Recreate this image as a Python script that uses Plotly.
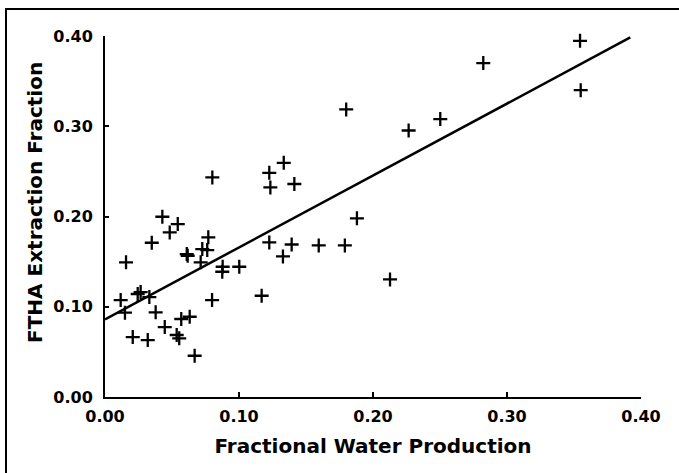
import plotly.graph_objects as go

water_fraction = [
    0.0801, 0.1226, 0.1234, 0.0428, 0.0543, 0.0483, 0.0349, 0.0771, 0.0726, 0.0763,
    0.0610, 0.0617, 0.0157, 0.0714, 0.0878, 0.0875, 0.1002, 0.1226, 0.0117, 0.0244,
    0.0266, 0.0331, 0.0149, 0.0378, 0.0799, 0.1169, 0.0207, 0.0319, 0.0446, 0.0535,
    0.0554, 0.0569, 0.0632, 0.0669,
    0.1800, 0.2266, 0.2502, 0.1334, 0.1413, 0.1880, 0.1393, 0.1328, 0.1595, 0.1790,
    0.2127, 0.2823, 0.3545, 0.3550,
]
ftha_fraction = [
    0.2433, 0.2484, 0.2322, 0.1997, 0.1916, 0.1824, 0.1709, 0.1769, 0.1639, 0.1628,
    0.1584, 0.1565, 0.1492, 0.1492, 0.1443, 0.1388, 0.1443, 0.1713, 0.1074, 0.1141,
    0.1163, 0.1107, 0.0934, 0.0938, 0.1074, 0.1122, 0.0664, 0.0631, 0.0775, 0.0687,
    0.0650, 0.0864, 0.0889, 0.0457,
    0.3186, 0.2953, 0.3079, 0.2595, 0.2360, 0.1980, 0.1690, 0.1558, 0.1680, 0.1680,
    0.1303, 0.3700, 0.3946, 0.3400,
]

# Regression line
fit_intercept = 0.086
fit_slope = 0.797
fit_x = [0.0, 0.392]
fit_y = [fit_intercept + fit_slope * v for v in fit_x]

tick_vals = [0.0, 0.1, 0.2, 0.3, 0.4]
tick_text = ["0.00", "0.10", "0.20", "0.30", "0.40"]

FONT = "DejaVu Sans"

fig = go.Figure()
fig.add_trace(go.Scatter(
    x=water_fraction, y=ftha_fraction, mode="markers",
    marker=dict(symbol="cross-thin", size=10, color="black",
                line=dict(color="black", width=2.3)),
    showlegend=False, cliponaxis=False,
))
fig.add_trace(go.Scatter(
    x=fit_x, y=fit_y, mode="lines",
    line=dict(color="black", width=2.5),
    showlegend=False,
))

fig.update_layout(
    width=679, height=473,
    margin=dict(l=105, r=38, t=36, b=76),
    paper_bgcolor="white", plot_bgcolor="white",
    font=dict(family=FONT, color="black", size=16, weight="bold"),
    xaxis=dict(
        range=[0, 0.4], tickvals=tick_vals, ticktext=tick_text,
        showgrid=False, zeroline=False,
        showline=True, linecolor="black", linewidth=2,
        ticks="inside", ticklen=5, tickwidth=1.5, tickcolor="black",
        tickfont=dict(family=FONT, size=16, weight="bold"),
        ticklabelstandoff=4,
        title=dict(text="Fractional Water Production",
                   font=dict(family=FONT, size=20, weight="bold"), standoff=14),
    ),
    yaxis=dict(
        range=[0, 0.4], tickvals=tick_vals, ticktext=tick_text,
        showgrid=False, zeroline=False,
        showline=True, linecolor="black", linewidth=2,
        ticks="inside", ticklen=4, tickwidth=1.5, tickcolor="black",
        tickfont=dict(family=FONT, size=16, weight="bold"),
        ticklabelstandoff=7,
    ),
    annotations=[dict(text="FTHA Extraction Fraction", textangle=-90,
                      xref="paper", yref="paper", x=-0.1297, y=0.5388,
                      xanchor="center", yanchor="middle", showarrow=False,
                      font=dict(family=FONT, size=20, weight="bold", color="black"))],
    shapes=[dict(type="rect", xref="paper", yref="paper",
                 x0=-0.1847, x1=1.3, y0=-0.5, y1=1.0748,
                 line=dict(color="black", width=2), fillcolor="rgba(0,0,0,0)")],
)

fig.write_html("out.html")
